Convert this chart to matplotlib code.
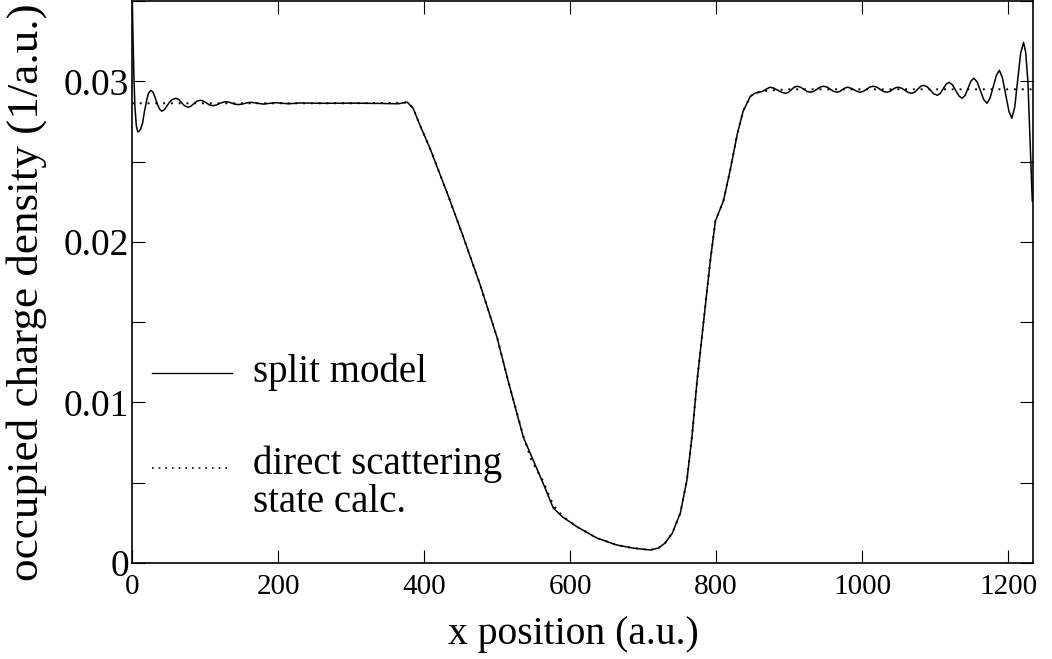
import matplotlib
matplotlib.use("Agg")
import matplotlib.pyplot as plt
from matplotlib.ticker import MultipleLocator

plt.rcParams['font.family'] = ['Liberation Serif', 'DejaVu Serif']

# split model (solid)
split_x = [0, 1, 2.5, 4, 6, 8, 10, 12, 14.5, 17, 20, 22.5, 26, 29, 32, 35,
           38, 41, 44, 47, 51, 55, 60, 64, 68, 72, 77, 81, 85, 89, 94, 98,
           102, 106, 111, 116, 120, 125, 129, 133, 137, 142, 146, 151, 155,
           159, 163, 172, 180, 189, 197, 206, 214, 223, 231, 260, 300, 340,
           365, 372,
           377, 385, 395, 408, 432, 453, 477, 500, 515, 536, 563, 577, 590,
           610, 637, 664, 686, 710, 721, 730, 740, 751, 760, 767, 774, 792,
           799, 810, 819, 829, 837, 847, 853, 864,
           869, 874, 879, 884.5, 890, 895, 899, 903, 907, 911, 915.5, 920,
           924.5, 929, 933.5, 938, 942.5, 947, 952, 956.5, 961, 966, 969.5,
           973, 976.5, 980, 984, 988.5, 993, 997, 1001.5, 1006, 1010.5, 1015,
           1020, 1024.5, 1029, 1034, 1038, 1041.5, 1045, 1049, 1054, 1058.5,
           1063, 1068, 1072, 1076, 1080, 1084, 1089, 1093.5, 1098, 1103,
           1107, 1111, 1115, 1119, 1123.5, 1128, 1132.5, 1137, 1141, 1145,
           1149, 1153, 1157.5, 1162, 1166.5, 1171, 1175, 1179.5, 1184, 1188,
           1192, 1196.5, 1201, 1205, 1209, 1213, 1217, 1221, 1224, 1227,
           1230, 1233]
split_y = [0.0360, 0.0335, 0.0305, 0.0284, 0.0272, 0.02685, 0.0269, 0.02705,
           0.0274, 0.0281, 0.0288, 0.02925, 0.02944, 0.0293, 0.02895,
           0.02855, 0.02825, 0.02814, 0.02822, 0.02840, 0.02868, 0.02886,
           0.02894, 0.02887, 0.02866, 0.02848, 0.02838, 0.02846, 0.02862,
           0.02876, 0.02882, 0.02876, 0.02865, 0.02853, 0.02848, 0.02853,
           0.02862, 0.02870, 0.02873, 0.02870, 0.02863, 0.02857, 0.02855,
           0.02858, 0.02863, 0.02867, 0.02869, 0.02863, 0.02858, 0.02863,
           0.02867, 0.02863, 0.02860, 0.02863, 0.02865, 0.02863, 0.02864,
           0.02862, 0.02860, 0.02866,
           0.02870, 0.02832, 0.02720, 0.02584, 0.02300, 0.02040, 0.01730,
           0.01404, 0.01137, 0.00783, 0.00497, 0.00342, 0.00286, 0.00224,
           0.00155, 0.00112, 0.00093, 0.00081, 0.00093, 0.00124, 0.00186,
           0.00311, 0.00516, 0.00790, 0.01137, 0.01882, 0.02130, 0.02255,
           0.02441, 0.02671, 0.02814, 0.02907, 0.02925, 0.02938,
           0.02952, 0.02963, 0.02957, 0.02944, 0.02931, 0.02925, 0.02931,
           0.02947, 0.02963, 0.02969, 0.02964, 0.02950, 0.02937, 0.02932,
           0.02937, 0.02950, 0.02964, 0.02969, 0.02964, 0.02950, 0.02937,
           0.02932, 0.02937, 0.02948, 0.02958, 0.02963, 0.02958, 0.02948,
           0.02937, 0.02932, 0.02937, 0.02950, 0.02964, 0.02969, 0.02964,
           0.02950, 0.02937, 0.02932, 0.02937, 0.02948, 0.02958, 0.02963,
           0.02957, 0.02944, 0.02931, 0.02925, 0.02932, 0.02950, 0.02968,
           0.02975, 0.02966, 0.02944, 0.02922, 0.02913, 0.02925, 0.02954,
           0.02982, 0.02994, 0.02979, 0.02944, 0.02909, 0.02894, 0.02912,
           0.02957, 0.03001, 0.03019, 0.02996, 0.02941, 0.02886, 0.02863,
           0.02893, 0.02966, 0.03038, 0.03068, 0.03024, 0.02919, 0.02814,
           0.02770, 0.02839, 0.03006, 0.03173, 0.03242, 0.03180, 0.03000,
           0.02620, 0.02255]

# direct scattering state calc. (dotted)
direct_x = [0, 100, 200, 300, 372, 377, 385, 395, 408, 432, 453, 477, 500,
            515, 536, 547, 563, 577, 590, 610, 637, 664, 686, 710, 721, 730,
            740, 751, 760, 767, 774, 792, 799, 810, 819, 829, 837, 847, 853,
            864, 900, 1000, 1100, 1200, 1233]
direct_y = [0.02863, 0.02863, 0.02863, 0.02863, 0.02866, 0.02870, 0.02832,
            0.02720, 0.02584, 0.02300, 0.02040, 0.01730, 0.01404, 0.01137,
            0.00790, 0.00640, 0.00510, 0.00360, 0.00290, 0.00224, 0.00155,
            0.00112, 0.00093, 0.00081, 0.00093, 0.00124, 0.00186, 0.00311,
            0.00516, 0.00790, 0.01137, 0.01882, 0.02130, 0.02255, 0.02441,
            0.02671, 0.02814, 0.02907, 0.02925, 0.02940, 0.02950, 0.02950,
            0.02950, 0.02950, 0.02950]

x_ticks = [0, 200, 400, 600, 800, 1000, 1200]
y_ticks = [0, 0.01, 0.02, 0.03]
y_tick_labels = ['0', '0.01', '0.02', '0.03']

fig = plt.figure(figsize=(10.52, 6.59), dpi=100)
ax = fig.add_axes([132 / 1052, 96 / 659, 901 / 1052, 562 / 659])

ax.plot(split_x, split_y, color='black', lw=1.1, solid_joinstyle='round')
ax.plot(direct_x, direct_y, color='black', lw=1.4, linestyle=(0, (1.0, 3.0)))

ax.set_xlim(0, 1234)
ax.set_ylim(0, 0.035)
ax.set_xticks(x_ticks)
ax.set_yticks(y_ticks)
ax.set_yticklabels(y_tick_labels)
ax.yaxis.set_minor_locator(MultipleLocator(0.005))
ax.tick_params(which='both', direction='in', top=True, right=True,
               length=9.5, width=0.8)
ax.tick_params(axis='x', labelsize=21, pad=8)
ax.tick_params(axis='y', labelsize=27, pad=2)
for s in ax.spines.values():
    s.set_linewidth(1.2)

ax.set_xlabel('x position (a.u.)', fontsize=28.5)
ax.xaxis.set_label_coords(0.4895, -0.095)
ax.set_ylabel('occupied charge density (1/a.u.)', fontsize=32.5)
ax.yaxis.set_label_coords(-0.094, 0.482)

# legend drawn by hand
ax.plot([0.022, 0.111], [0.3375, 0.3375], transform=ax.transAxes,
        color='black', lw=1.0)
ax.plot([0.022, 0.108], [0.169, 0.169], transform=ax.transAxes,
        color='black', lw=1.2, linestyle=(0, (1.0, 3.0)))
ax.text(0.134, 0.3215, 'split model', transform=ax.transAxes, fontsize=28,
        va='baseline')
ax.text(0.134, 0.158, 'direct scattering', transform=ax.transAxes,
        fontsize=28, va='baseline')
ax.text(0.134, 0.0906, 'state calc.', transform=ax.transAxes, fontsize=28,
        va='baseline')

fig.savefig('out.png', dpi=100)
